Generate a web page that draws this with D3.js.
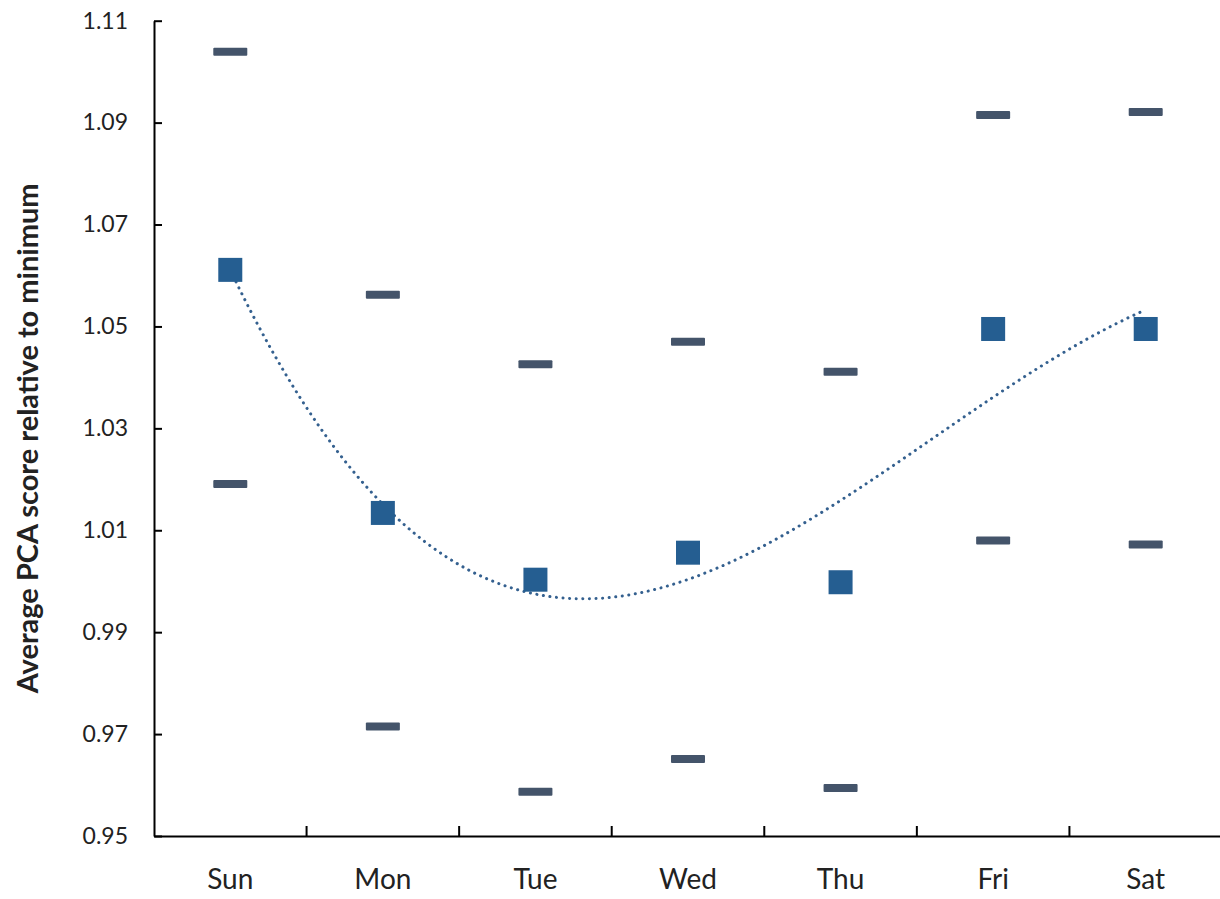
<!DOCTYPE html>
<html>
<head>
<meta charset="utf-8">
<script src="https://cdn.jsdelivr.net/npm/d3@7"></script>
<style>
  html, body { margin: 0; padding: 0; background: #fff; }
  svg { display: block; font-family: Lato, "Open Sans", sans-serif; }
</style>
</head>
<body>
<svg id="chart" width="1220" height="899"></svg>
<script>
// Days of the week
const days = ["Sun", "Mon", "Tue", "Wed", "Thu", "Fri", "Sat"];
// Average PCA score relative to minimum, per day
const avgScore = [1.0611, 1.0134, 1.0003, 1.0056, 0.9998, 1.0495, 1.0495];
// Upper and lower bounds per day
const upperScore = [1.1039, 1.0562, 1.0426, 1.0470, 1.0411, 1.0915, 1.0921];
const lowerScore = [1.0191, 0.9715, 0.9587, 0.9651, 0.9594, 1.0080, 1.0072];
// Y axis tick labels
const yTicks = [0.95, 0.97, 0.99, 1.01, 1.03, 1.05, 1.07, 1.09, 1.11];

const svg = d3.select("#chart");
const plotLeft = 154, plotRight = 1222, plotTop = 20.7, plotBottom = 836;

const x = d3.scaleBand().domain(days).range([plotLeft, plotRight]).paddingInner(0).paddingOuter(0);
const cx = d => x(d) + x.bandwidth() / 2;
const y = d3.scaleLinear().domain([0.95, 1.11]).range([plotBottom, plotTop]);

// Y axis with inside ticks
const yAxis = svg.append("g")
  .attr("transform", `translate(${plotLeft},0)`)
  .call(d3.axisLeft(y).tickValues(yTicks).tickFormat(d3.format(".2f"))
    .tickSizeInner(-8).tickSizeOuter(0).tickPadding(26));
yAxis.select(".domain").attr("stroke", "#000").attr("stroke-width", 2);
yAxis.selectAll(".tick line").attr("stroke", "#000").attr("stroke-width", 2);
yAxis.selectAll(".tick text").attr("font-size", 23).attr("fill", "#222")
  .attr("font-family", "Lato, 'Open Sans', sans-serif");

// X axis: category labels, ticks between categories pointing up
const xAxis = svg.append("g")
  .attr("transform", `translate(0,${plotBottom})`)
  .call(d3.axisBottom(x).tickSizeInner(0).tickSizeOuter(0).tickPadding(33));
xAxis.select(".domain").attr("stroke", "#000").attr("stroke-width", 2);
xAxis.selectAll(".tick text").attr("font-size", 28).attr("fill", "#222")
  .attr("font-family", "Lato, 'Open Sans', sans-serif");
xAxis.selectAll(".boundary")
  .data(days.slice(1))
  .enter().append("line")
  .attr("class", "boundary")
  .attr("x1", d => x(d)).attr("x2", d => x(d))
  .attr("y1", 0).attr("y2", -10)
  .attr("stroke", "#000").attr("stroke-width", 2);

// Y axis title
svg.append("text")
  .attr("transform", `translate(38,${(plotTop + plotBottom) / 2 + 10}) rotate(-90)`)
  .attr("text-anchor", "middle")
  .attr("font-size", 29).attr("font-weight", "bold").attr("fill", "#222")
  .text("Average PCA score relative to minimum");

// Third-order polynomial trend line of the averages (least squares)
function polyFit(xs, ys, order) {
  const n = order + 1;
  const A = Array.from({length: n}, () => new Array(n + 1).fill(0));
  for (let r = 0; r < n; r++) {
    for (let c = 0; c < n; c++) A[r][c] = d3.sum(xs, v => Math.pow(v, r + c));
    A[r][n] = d3.sum(xs, (v, i) => Math.pow(v, r) * ys[i]);
  }
  for (let i = 0; i < n; i++) {
    let p = i;
    for (let k = i + 1; k < n; k++) if (Math.abs(A[k][i]) > Math.abs(A[p][i])) p = k;
    [A[i], A[p]] = [A[p], A[i]];
    for (let k = 0; k < n; k++) {
      if (k === i) continue;
      const f = A[k][i] / A[i][i];
      for (let c = i; c <= n; c++) A[k][c] -= f * A[i][c];
    }
  }
  return A.map((row, i) => row[n] / row[i]);
}
const idx = days.map((d, i) => i + 1);
const coef = polyFit(idx, avgScore, 3);
const evalPoly = t => coef.reduce((s, c, k) => s + c * Math.pow(t, k), 0);
const xi = d3.scaleLinear().domain([1, days.length]).range([cx(days[0]), cx(days[days.length - 1])]);
const trendPts = d3.range(1, days.length + 0.001, 0.02).map(t => [xi(t), y(evalPoly(t))]);

svg.append("path")
  .datum(trendPts)
  .attr("d", d3.line())
  .attr("fill", "none")
  .attr("stroke", "#34608f")
  .attr("stroke-width", 3)
  .attr("stroke-linecap", "round")
  .attr("stroke-dasharray", "0.1 6.5");

// Upper and lower bound dashes
const dashW = 34, dashH = 8;
[upperScore, lowerScore].forEach(series => {
  svg.append("g").selectAll("rect")
    .data(days.map((d, i) => ({day: d, v: series[i]})))
    .enter().append("rect")
    .attr("x", d => cx(d.day) - dashW / 2)
    .attr("y", d => y(d.v) - dashH / 2)
    .attr("width", dashW).attr("height", dashH)
    .attr("rx", 1)
    .attr("fill", "#44546a");
});

// Average markers
const sq = 24;
svg.append("g").selectAll("rect")
  .data(days.map((d, i) => ({day: d, v: avgScore[i]})))
  .enter().append("rect")
  .attr("x", d => cx(d.day) - sq / 2)
  .attr("y", d => y(d.v) - sq / 2)
  .attr("width", sq).attr("height", sq)
  .attr("fill", "#255e91");
</script>
</body>
</html>
